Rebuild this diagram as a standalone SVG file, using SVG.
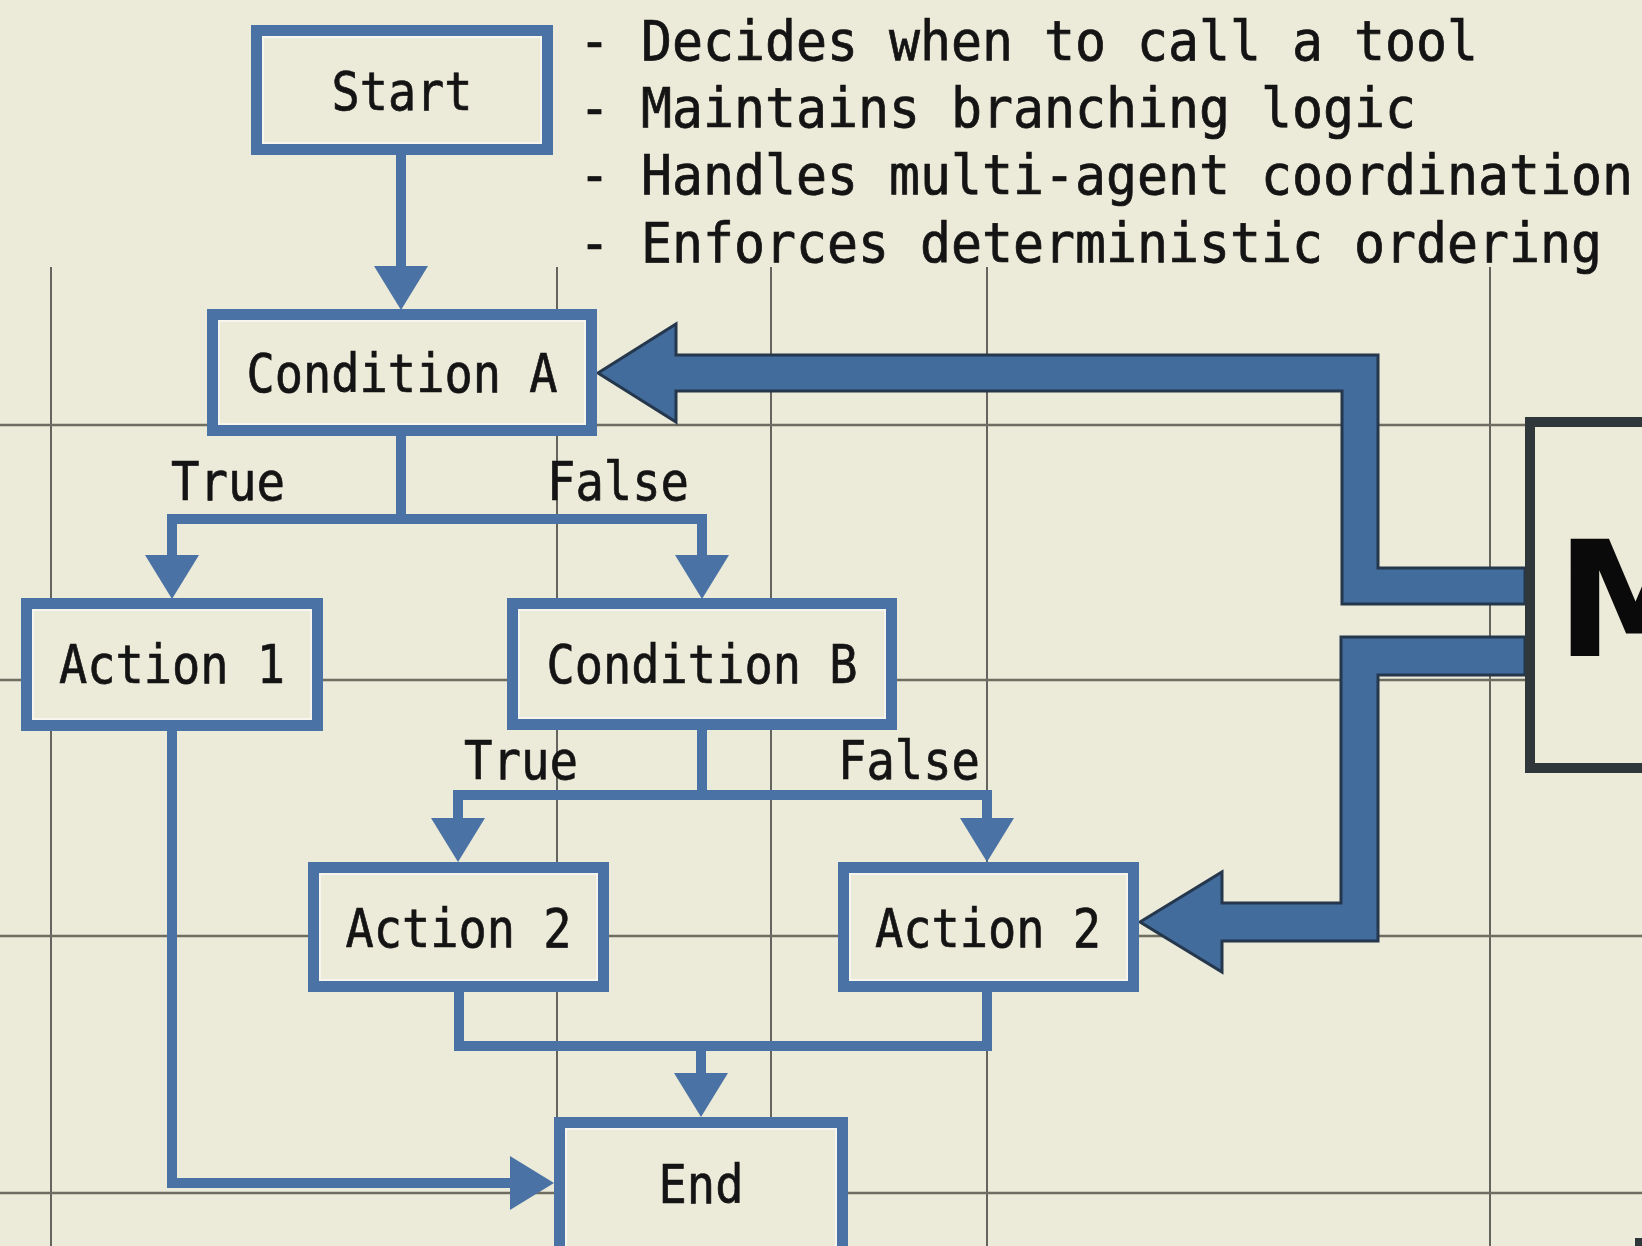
<svg xmlns="http://www.w3.org/2000/svg" width="1642" height="1246" viewBox="0 0 1642 1246">
  <style>
    .bg { fill: #ecead9; }
    .gv { stroke: #55564f; stroke-width: 1.8; }
    .gh { stroke: #6d6d62; stroke-width: 2.6; }
    .box { fill: #ecead9; stroke: #4a72a4; stroke-width: 11; }
    .hl { fill: none; stroke: #f8f8f1; stroke-width: 2; opacity: 0.85; }
    .mbox { fill: #ecead9; stroke: #30373b; stroke-width: 10; }
    .lbl { font-family: "DejaVu Sans Mono", "Liberation Mono", monospace; font-size: 53px; fill: #141414; stroke: #141414; stroke-width: 0.7px; }
    .mid { text-anchor: middle; }
    .note { font-family: "DejaVu Sans Mono", "Liberation Mono", monospace; font-size: 51.5px; fill: #141414; stroke: #141414; stroke-width: 0.7px; }
    .big { font-family: "DejaVu Sans", "Liberation Sans", sans-serif; font-weight: bold; font-size: 160px; fill: #0a0a0a; }
    .wire { fill: none; stroke: #4a72a4; stroke-width: 10; stroke-linejoin: miter; stroke-linecap: butt; }
    .thick { fill: #426c9c; stroke: #25374d; stroke-width: 3; stroke-linejoin: miter; }
  </style>
  <defs>
    <marker id="head" markerUnits="userSpaceOnUse" viewBox="0 0 44 54" refX="0" refY="27" markerWidth="44" markerHeight="54" orient="auto">
      <path d="M0,0 L44,27 L0,54 Z" fill="#4a72a4"/>
    </marker>
  </defs>

  <rect class="bg" x="0" y="0" width="1642" height="1246"/>

  <!-- background grid -->
  <g id="grid">
    <line class="gv" x1="51" y1="267" x2="51" y2="1246"/>
    <line class="gv" x1="557" y1="267" x2="557" y2="1246"/>
    <line class="gv" x1="771" y1="267" x2="771" y2="1246"/>
    <line class="gv" x1="987" y1="267" x2="987" y2="1246"/>
    <line class="gv" x1="1490" y1="267" x2="1490" y2="1246"/>
    <line class="gh" x1="0" y1="425" x2="1642" y2="425"/>
    <line class="gh" x1="0" y1="680" x2="1642" y2="680"/>
    <line class="gh" x1="0" y1="936" x2="1642" y2="936"/>
    <line class="gh" x1="0" y1="1193" x2="1642" y2="1193"/>
  </g>

  <!-- notes (slightly stretched vertically) -->
  <g id="notes">
    <text class="note" transform="translate(579,60) scale(1,1.07)">- Decides when to call a tool</text>
    <text class="note" transform="translate(579,127) scale(1,1.07)">- Maintains branching logic</text>
    <text class="note" transform="translate(579,194) scale(1,1.07)">- Handles multi-agent coordination</text>
    <text class="note" transform="translate(579,262) scale(1,1.07)">- Enforces deterministic ordering</text>
  </g>

  <!-- connectors -->
  <g id="connectors">
    <path class="wire" d="M401,155 V266" marker-end="url(#head)"/>
    <path class="wire" d="M401,436 V519"/>
    <path class="wire" d="M401,519 H172 V555" marker-end="url(#head)"/>
    <path class="wire" d="M401,519 H702 V555" marker-end="url(#head)"/>
    <path class="wire" d="M172,731 V1183 H510" marker-end="url(#head)"/>
    <path class="wire" d="M702,730 V795"/>
    <path class="wire" d="M702,795 H458 V818" marker-end="url(#head)"/>
    <path class="wire" d="M702,795 H987 V818" marker-end="url(#head)"/>
    <path class="wire" d="M459,992 V1046 H987 V992"/>
    <path class="wire" d="M701,1046 V1073" marker-end="url(#head)"/>
    <!-- heavy feedback arrows from the right-hand panel -->
    <polygon class="thick" points="598,373 676,324 676,355 1378,355 1378,568 1525,568 1525,604 1342,604 1342,391 676,391 676,422"/>
    <polygon class="thick" points="1140,922 1222,872 1222,903 1341,903 1341,637 1525,637 1525,675 1378,675 1378,941 1222,941 1222,972"/>
  </g>

  <!-- branch labels -->
  <g id="labels">
    <text class="lbl" x="171" y="500" textLength="114" lengthAdjust="spacingAndGlyphs">True</text>
    <text class="lbl" x="547" y="500" textLength="142" lengthAdjust="spacingAndGlyphs">False</text>
    <text class="lbl" x="464" y="779" textLength="114" lengthAdjust="spacingAndGlyphs">True</text>
    <text class="lbl" x="838" y="779" textLength="142" lengthAdjust="spacingAndGlyphs">False</text>
  </g>

  <!-- nodes -->
  <g id="node-start">
    <rect class="box" x="256.5" y="30.5" width="291" height="119"/>
    <rect class="hl" x="263" y="37" width="278" height="106"/>
    <text class="lbl mid" x="402" y="110" textLength="141" lengthAdjust="spacingAndGlyphs">Start</text>
  </g>
  <g id="node-condition-a">
    <rect class="box" x="212.5" y="314.5" width="379" height="116"/>
    <rect class="hl" x="219" y="321" width="366" height="103"/>
    <text class="lbl mid" x="402" y="392" textLength="311" lengthAdjust="spacingAndGlyphs">Condition A</text>
  </g>
  <g id="node-action-1">
    <rect class="box" x="26.5" y="603.5" width="291" height="122"/>
    <rect class="hl" x="33" y="610" width="278" height="109"/>
    <text class="lbl mid" x="172" y="683" textLength="226" lengthAdjust="spacingAndGlyphs">Action 1</text>
  </g>
  <g id="node-condition-b">
    <rect class="box" x="512.5" y="603.5" width="379" height="121"/>
    <rect class="hl" x="519" y="610" width="366" height="108"/>
    <text class="lbl mid" x="702" y="683" textLength="311" lengthAdjust="spacingAndGlyphs">Condition B</text>
  </g>
  <g id="node-action-2-true">
    <rect class="box" x="313.5" y="867.5" width="290" height="119"/>
    <rect class="hl" x="320" y="874" width="277" height="106"/>
    <text class="lbl mid" x="458.5" y="947" textLength="226" lengthAdjust="spacingAndGlyphs">Action 2</text>
  </g>
  <g id="node-action-2-false">
    <rect class="box" x="843.5" y="867.5" width="290" height="119"/>
    <rect class="hl" x="850" y="874" width="277" height="106"/>
    <text class="lbl mid" x="988" y="947" textLength="226" lengthAdjust="spacingAndGlyphs">Action 2</text>
  </g>
  <g id="node-end">
    <rect class="box" x="559.5" y="1122.5" width="283" height="150"/>
    <rect class="hl" x="566" y="1129" width="270" height="137"/>
    <text class="lbl mid" x="701" y="1203" textLength="85" lengthAdjust="spacingAndGlyphs">End</text>
  </g>
  <g id="node-m">
    <rect class="mbox" x="1530" y="422" width="200" height="346"/>
    <text class="big" x="1556" y="656">M</text>
  </g>
  <g id="node-corner">
    <rect class="mbox" x="1640" y="1243" width="40" height="40"/>
  </g>
</svg>
